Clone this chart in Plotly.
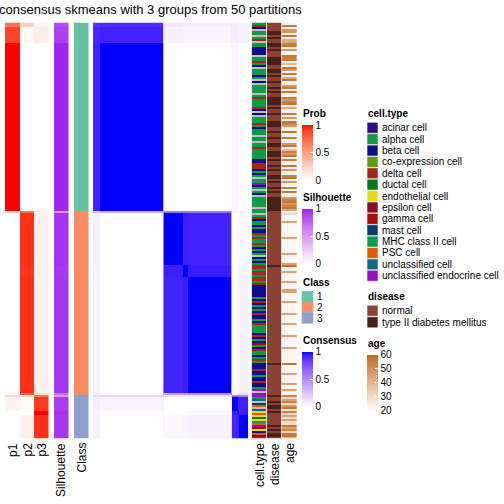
import numpy as np
import plotly.graph_objects as go

W, H = 504, 504
FONT = "Liberation Sans, Arial, Helvetica, sans-serif"

title_text = "consensus skmeans with 3 groups from 50 partitions"
column_labels = ["p1", "p2", "p3", "Silhouette", "Class", "cell.type", "disease", "age"]

# ---- sample blocks (rows/cols of the consensus matrix, top to bottom) ----
seg_sizes = [2, 8, 84, 1, 26, 6, 58, 1, 1, 7, 2, 12]
seg_class = [1, 1, 1, 2, 2, 2, 2, 2, 3, 3, 3, 3]
seg_p1 = [0.70, 0.88, 1.00, 0.25, 0.00, 0.00, 0.00, 0.05, 0.22, 0.07, 0.00, 0.00]
seg_p2 = [0.25, 0.03, 0.00, 0.70, 0.93, 0.92, 0.93, 0.80, 0.10, 0.02, 0.00, 0.07]
seg_p3 = [0.05, 0.09, 0.00, 0.05, 0.07, 0.08, 0.07, 0.15, 0.68, 0.91, 1.00, 0.93]
seg_silhouette = [0.86, 0.90, 0.99, 0.50, 0.95, 0.93, 0.94, 0.70, 0.50, 0.92, 0.95, 0.93]
seg_consensus = [
    [0.85, 0.88, 0.90, 0.30, 0.10, 0.08, 0.08, 0.10, 0.20, 0.08, 0.06, 0.06],
    [0.88, 0.92, 0.93, 0.25, 0.06, 0.05, 0.04, 0.08, 0.15, 0.08, 0.06, 0.06],
    [0.90, 0.93, 1.00, 0.35, 0.00, 0.00, 0.00, 0.02, 0.20, 0.05, 0.00, 0.00],
    [0.30, 0.25, 0.35, 0.55, 0.60, 0.60, 0.60, 0.40, 0.25, 0.05, 0.05, 0.05],
    [0.10, 0.06, 0.00, 0.60, 1.00, 0.94, 0.93, 0.40, 0.10, 0.00, 0.00, 0.03],
    [0.08, 0.05, 0.00, 0.60, 0.94, 1.00, 0.95, 0.40, 0.10, 0.00, 0.02, 0.04],
    [0.08, 0.04, 0.00, 0.60, 0.93, 0.95, 1.00, 0.45, 0.12, 0.01, 0.03, 0.06],
    [0.10, 0.08, 0.02, 0.40, 0.40, 0.40, 0.45, 0.60, 0.25, 0.05, 0.10, 0.15],
    [0.20, 0.15, 0.20, 0.25, 0.10, 0.10, 0.12, 0.25, 0.65, 0.60, 0.60, 0.55],
    [0.08, 0.08, 0.05, 0.05, 0.00, 0.00, 0.01, 0.05, 0.60, 1.00, 0.95, 0.93],
    [0.06, 0.06, 0.00, 0.05, 0.00, 0.02, 0.03, 0.10, 0.60, 0.95, 1.00, 0.95],
    [0.06, 0.06, 0.00, 0.05, 0.03, 0.04, 0.06, 0.15, 0.55, 0.93, 0.95, 1.00],
]

# ---- per-sample annotations (one character / value per sample) ----
celltype_names = ["acinar cell", "alpha cell", "beta cell", "co-expression cell", "delta cell",
                  "ductal cell", "endothelial cell", "epsilon cell", "gamma cell", "mast cell",
                  "MHC class II cell", "PSC cell", "unclassified cell", "unclassified endocrine cell"]
celltype_colors = ["#2F0C87", "#0E9A47", "#0C0C8C", "#5B9E12", "#A42818", "#077524", "#E7DC12",
                   "#8E0C22", "#A80C04", "#0A3A73", "#0C9A4C", "#DE5C0C", "#0E6884", "#9C0ACA"]
celltype_letters = "aABCDUEPGMHSXY"
na_color = "#BEBEBE"
celltype_g1 = ("ADBnAAnADn" "AABBBBnAAD" "ABnAAABAnB" "nAAAAnADAA" "AADBnBnAAA"
               "DABAAAnAAn" "AADAAAAABB" "DDDBABAnAA" "YBAnABnAAA" "AAnA")
celltype_g2 = ("AnADBAABAB" "BDADAADABA" "BAnBABADDA" "DDADDADBBB" "BBBABDBABA"
               "BDBBABDAAA" "ABDBABGABD" "AABADABBBD" "BBABBDBBAY" "nY")
celltype_g3 = "YHXnMSnXESEUEHSYGEaSPD"

disease_names = ["normal", "type II diabetes mellitus"]
disease_colors = ["#8B4232", "#4A2018"]
disease_g1 = ("NNNNTTNTNN" "TTNTNNNTTT" "TNNTTNTNNT" "NNTNTNNTTT" "TNTNNTNNNT"
              "TTNNTNNTNN" "TTNNTTTNTN" "NTNTNNTTNT" "NNTNTNNTTT" "TTTT")
disease_g2 = ("NNNNNNNNNN" "NNNNNNNNNN" "NNNNNNNTNN" "NNNNNNNNNN" "NNNNNNNNNN"
              "NNNNNNNNNN" "NNNNNNNNNN" "NNNNNNTNNN" "NNNNNNNNNN" "NN")
disease_g3 = "TNNTNTTNTNNNNNNTNTNTTN"

age_g1 = [23, 55, 23, 48, 48, 23, 57, 23, 43, 43,
          55, 57, 23, 48, 23, 23, 57, 55, 55, 23,
          38, 23, 57, 48, 23, 55, 23, 43, 57, 23,
          23, 48, 55, 23, 57, 23, 23, 55, 48, 55,
          57, 23, 43, 23, 23, 55, 23, 48, 23, 57,
          55, 48, 23, 23, 57, 23, 23, 55, 23, 23,
          48, 57, 23, 38, 55, 48, 57, 23, 55, 23,
          23, 57, 23, 48, 23, 23, 55, 57, 23, 48,
          23, 23, 55, 23, 57, 23, 23, 48, 55, 57,
          48, 55, 57, 43]
age_g2 = [22, 30, 22, 22, 22, 45, 22, 22, 22, 22,
          22, 22, 22, 45, 22, 22, 22, 22, 22, 22,
          22, 45, 22, 22, 22, 22, 45, 57, 22, 22,
          45, 22, 22, 22, 22, 45, 22, 22, 22, 45,
          45, 22, 22, 22, 22, 45, 22, 22, 22, 22,
          22, 45, 22, 22, 22, 22, 45, 22, 22, 22,
          22, 22, 45, 22, 22, 22, 22, 22, 45, 22,
          22, 22, 22, 22, 22, 22, 57, 22, 22, 22,
          22, 45, 22, 22, 22, 22, 45, 22, 22, 45,
          22, 22]
age_g3 = [55, 30, 45, 55, 30, 48, 57, 28, 55, 30, 45, 28, 45, 30, 28, 57, 45, 55, 30, 57, 57, 40]

class_colors = ["#66C2A5", "#FC8D62", "#8DA0CB"]


# ---- colour helpers (LAB interpolation like colorRamp2) ----
def _hex(h):
    return [int(h[i:i + 2], 16) / 255 for i in (1, 3, 5)]


def _to_lab(rgb):
    lin = [c / 12.92 if c <= 0.04045 else ((c + 0.055) / 1.055) ** 2.4 for c in rgb]
    M = [[0.4124, 0.3576, 0.1805], [0.2126, 0.7152, 0.0722], [0.0193, 0.1192, 0.9505]]
    xyz = [sum(M[i][j] * lin[j] for j in range(3)) for i in range(3)]
    n = [0.95047, 1.0, 1.08883]
    d = 6 / 29

    def f(t):
        return t ** (1 / 3) if t > d ** 3 else t / (3 * d * d) + 4 / 29
    fx, fy, fz = [f(xyz[i] / n[i]) for i in range(3)]
    return [116 * fy - 16, 500 * (fx - fy), 200 * (fy - fz)]


def _from_lab(lab):
    L, a, b = lab
    fy = (L + 16) / 116
    fx = fy + a / 500
    fz = fy - b / 200
    d = 6 / 29

    def finv(t):
        return t ** 3 if t > d else 3 * d * d * (t - 4 / 29)
    n = [0.95047, 1.0, 1.08883]
    xyz = [n[0] * finv(fx), n[1] * finv(fy), n[2] * finv(fz)]
    Mi = [[3.2406, -1.5372, -0.4986], [-0.9689, 1.8758, 0.0415], [0.0557, -0.2040, 1.0570]]
    lin = [sum(Mi[i][j] * xyz[j] for j in range(3)) for i in range(3)]
    out = []
    for c in lin:
        c = max(0.0, min(1.0, c))
        c = 12.92 * c if c <= 0.0031308 else 1.055 * c ** (1 / 2.4) - 0.055
        out.append(int(round(max(0, min(1, c)) * 255)))
    return "rgb(%d,%d,%d)" % tuple(out)


def ramp(c0, c1, n=21):
    l0, l1 = _to_lab(_hex(c0)), _to_lab(_hex(c1))
    stops = []
    for i in range(n):
        t = i / (n - 1)
        stops.append([t, _from_lab([l0[k] + (l1[k] - l0[k]) * t for k in range(3)])])
    return stops


def stepped(colors):
    n = len(colors)
    cs = []
    for i, c in enumerate(colors):
        cs.append([i / n, c])
        cs.append([(i + 1) / n, c])
    return cs


# ---- expand blocks to samples ----
idx = np.repeat(np.arange(len(seg_sizes)), seg_sizes)
N = len(idx)
P = np.column_stack([np.array(seg_p1)[idx], np.array(seg_p2)[idx], np.array(seg_p3)[idx]])
sil = np.array(seg_silhouette)[idx].reshape(-1, 1)
cls = (np.array(seg_class)[idx] - 1).reshape(-1, 1)
C = np.array(seg_consensus)
cons = C[np.ix_(idx, idx)]

ct_all = celltype_g1 + celltype_g2 + celltype_g3
ct_codes = np.array([len(celltype_names) if ch == "n" else celltype_letters.index(ch) for ch in ct_all]).reshape(-1, 1)
dz_all = disease_g1 + disease_g2 + disease_g3
dz_codes = np.array([0 if ch == "N" else 1 for ch in dz_all]).reshape(-1, 1)
ages = np.array(age_g1 + age_g2 + age_g3, dtype=float).reshape(-1, 1)


def px_x(v):
    return v / W


def px_y(v):
    return 1 - v / H


prob_cs = ramp("#FFFFFF", "#FF0000")
sil_cs = ramp("#FFFFFF", "#A020F0")
cons_cs = ramp("#FFFFFF", "#0000FF")
age_cs = ramp("#FFFFFF", "#BD6B22")


def cbar(x_px, top_px, len_px, tickvals, ticktext):
    return dict(x=px_x(x_px), xanchor="left", y=px_y(top_px), yanchor="top",
                len=len_px, lenmode="pixels", thickness=11, thicknessmode="pixels",
                xpad=0, ypad=0, outlinewidth=0, ticks="inside", ticklen=3,
                tickcolor="white", tickwidth=1, tickvals=tickvals, ticktext=ticktext,
                tickfont=dict(size=10, family=FONT, color="black"))


fig = go.Figure()
fig.add_trace(go.Heatmap(z=P, xaxis="x", yaxis="y", colorscale=prob_cs, zmin=0, zmax=1,
                         hoverinfo="skip",
                         colorbar=cbar(302, 125, 55, [0, 0.5, 1], ["0", "0.5", "1"])))
fig.add_trace(go.Heatmap(z=sil, xaxis="x2", yaxis="y", colorscale=sil_cs, zmin=0, zmax=1,
                         hoverinfo="skip",
                         colorbar=cbar(302, 208.5, 55, [0, 0.5, 1], ["0", "0.5", "1"])))
fig.add_trace(go.Heatmap(z=cls, xaxis="x3", yaxis="y", colorscale=stepped(class_colors),
                         zmin=-0.5, zmax=2.5, showscale=False, hoverinfo="skip"))
fig.add_trace(go.Heatmap(z=cons, xaxis="x4", yaxis="y", colorscale=cons_cs, zmin=0, zmax=1,
                         hoverinfo="skip",
                         colorbar=cbar(302, 351.5, 55, [0, 0.5, 1], ["0", "0.5", "1"])))
fig.add_trace(go.Heatmap(z=ct_codes, xaxis="x5", yaxis="y",
                         colorscale=stepped(celltype_colors + [na_color]),
                         zmin=-0.5, zmax=len(celltype_names) + 0.5, showscale=False, hoverinfo="skip"))
fig.add_trace(go.Heatmap(z=dz_codes, xaxis="x6", yaxis="y", colorscale=stepped(disease_colors),
                         zmin=-0.5, zmax=1.5, showscale=False, hoverinfo="skip"))
fig.add_trace(go.Heatmap(z=ages, xaxis="x7", yaxis="y", colorscale=age_cs, zmin=20, zmax=60,
                         hoverinfo="skip",
                         colorbar=cbar(367, 354.5, 56, [20, 30, 40, 50, 60],
                                       ["20", "30", "40", "50", "60"])))

x_domains = [(5, 48.5), (54, 68.5), (74, 88.5), (93, 248), (251.7, 266.2), (266.8, 281.3), (282, 296.7)]
x_ncols = [3, 1, 1, N, 1, 1, 1]
layout_axes = {}
for i, ((a, b), k) in enumerate(zip(x_domains, x_ncols)):
    name = "xaxis" if i == 0 else "xaxis%d" % (i + 1)
    layout_axes[name] = dict(domain=[px_x(a), px_x(b)], range=[-0.5, k - 0.5], visible=False,
                             anchor="y", fixedrange=True)
layout_axes["yaxis"] = dict(domain=[px_y(438.5), px_y(22.5)], range=[N - 0.5, -0.5],
                            visible=False, fixedrange=True)

annotations = []
shapes = []

annotations.append(dict(text=title_text, x=px_x(150.5), y=px_y(9.5), xref="paper", yref="paper",
                        xanchor="center", yanchor="middle", showarrow=False,
                        font=dict(size=13, family=FONT, color="black")))

label_x = [13, 27.5, 41.5, 61, 81.5, 260, 275, 290]
for lab, xx in zip(column_labels, label_x):
    annotations.append(dict(text=lab, x=px_x(xx), y=px_y(442), xref="paper", yref="paper",
                            xanchor="center", yanchor="top", textangle=-90, showarrow=False,
                            borderpad=0, font=dict(size=12, family=FONT, color="black")))


def legend_title(text, x, yc):
    annotations.append(dict(text="<b>%s</b>" % text, x=px_x(x), y=px_y(yc), xref="paper", yref="paper",
                            xanchor="left", yanchor="middle", showarrow=False, borderpad=0,
                            font=dict(size=10, family=FONT, color="black")))


def legend_item(text, color, x, y0, h, line="white"):
    shapes.append(dict(type="rect", xref="paper", yref="paper", x0=px_x(x), x1=px_x(x + 11),
                       y0=px_y(y0 + h), y1=px_y(y0), fillcolor=color,
                       line=dict(color=line, width=0.6)))
    annotations.append(dict(text=text, x=px_x(x + 14), y=px_y(y0 + h / 2), xref="paper", yref="paper",
                            xanchor="left", yanchor="middle", showarrow=False, borderpad=0,
                            font=dict(size=10, family=FONT, color="black")))


legend_title("Prob", 302, 113.5)
legend_title("Silhouette", 302, 197.5)
legend_title("Class", 302, 282.5)
for i, c in enumerate(class_colors):
    legend_item(str(i + 1), c, 302, 291.5 + i * 10.6, 10.6, line=c)
legend_title("Consensus", 302, 340)

legend_title("cell.type", 367, 114)
for i, (nm, c) in enumerate(zip(celltype_names, celltype_colors)):
    legend_item(nm, c, 367, 122.3 + i * 11.38, 11.0)
legend_title("disease", 367, 296.5)
for i, (nm, c) in enumerate(zip(disease_names, disease_colors)):
    legend_item(nm, c, 367, 305.2 + i * 11.6, 11.0)
legend_title("age", 367, 343)

fig.update_layout(width=W, height=H, margin=dict(l=0, r=0, t=0, b=0, autoexpand=False),
                  paper_bgcolor="white", plot_bgcolor="white", showlegend=False,
                  annotations=annotations, shapes=shapes, **layout_axes)

fig.write_html("out.html", config={"displayModeBar": False},
               post_script="document.body.style.margin='0';document.body.style.overflow='hidden';")
